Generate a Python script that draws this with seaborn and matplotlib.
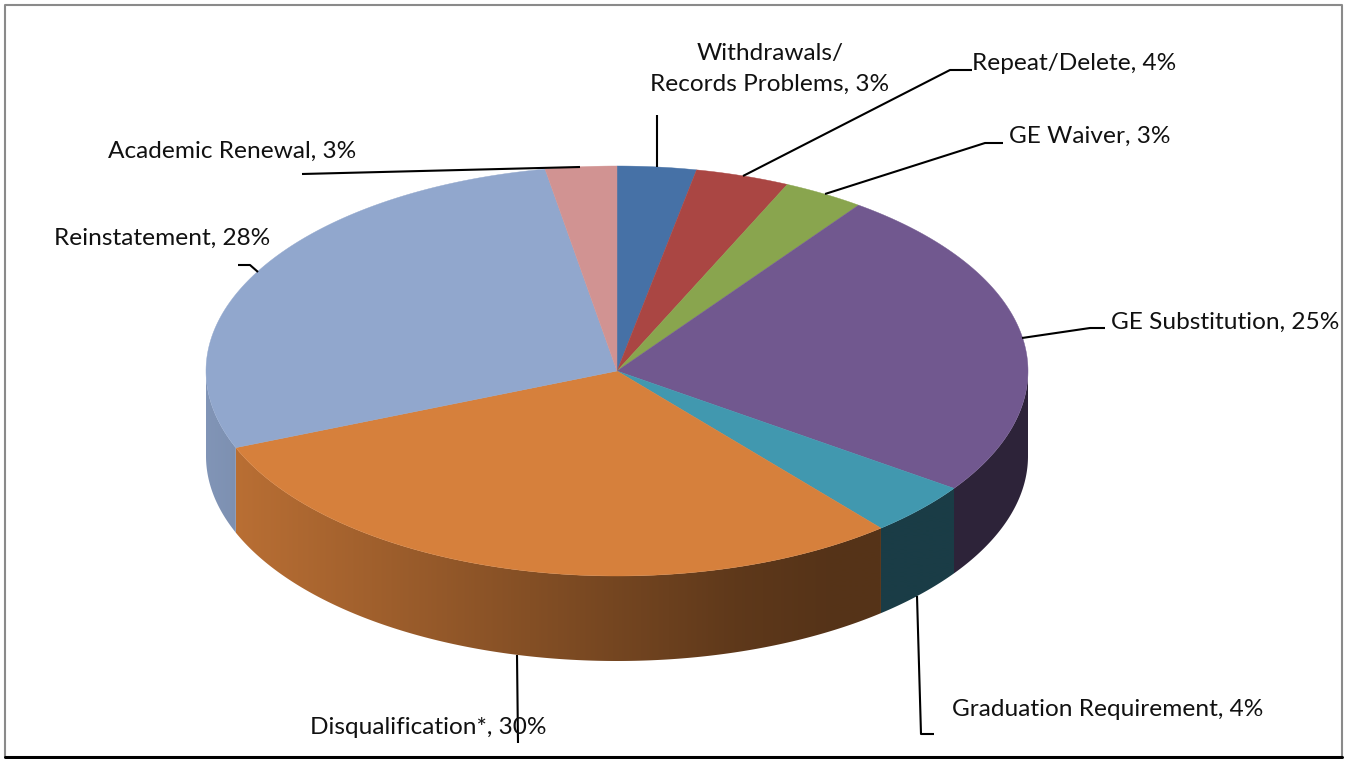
import numpy as np
import matplotlib
matplotlib.use('Agg')
import matplotlib.pyplot as plt
from matplotlib.patches import Polygon
import seaborn as sns

# ==========================================
# 1. DATA
# ==========================================
categorias = ['Withdrawals/\nRecords Problems', 'Repeat/Delete', 'GE Waiver', 'GE Substitution',
              'Graduation Requirement', 'Disqualification*', 'Reinstatement', 'Academic Renewal']
# estimados a partir dos angulos das fatias; os rotulos mostram o valor arredondado
valores = [3.1, 3.7, 3.2, 24.7, 4.2, 30.0, 28.3, 2.8]
cores = ['#4671A6', '#AA4643', '#89A54E', '#71588F', '#4198AF', '#D6803C', '#91A7CD', '#D19392']

# ==========================================
# 2. LAYOUT
# ==========================================
CX, CY, RX, RY, DEPTH = 617, 371, 411, 205, 85

pos_rotulos = [(770, 69, 'center'), (972, 63, 'left'), (1009, 136, 'left'), (1111, 322, 'left'),
               (952, 710, 'left'), (310, 727, 'left'), (54, 238, 'left'), (108, 151, 'left')]
linhas_guia = [[(657, 115), (657, 167)],
               [(972, 70), (950, 70), (743, 176)],
               [(1003, 143), (985, 143), (825, 194)],
               [(1105, 328), (1090, 328), (1022, 338)],
               [(934, 734), (921, 734), (917, 596)],
               [(517, 655), (518, 743)],
               [(238, 265), (250, 265), (258, 272)],
               [(302, 174), (580, 167)]]

sns.set_theme(style='white')
plt.rcParams['font.family'] = ['Lato', 'DejaVu Sans']

fig, ax = plt.subplots(figsize=(13.46, 7.59), dpi=100)
ax.set_position([0, 0, 1, 1])


def elipse(theta):
    # angulo medido a partir do topo, sentido horario
    return CX + RX * np.sin(theta), CY - RY * np.cos(theta)


# ==========================================
# 3. FATIAS
# ==========================================
limites = np.radians(np.cumsum([0] + valores) * 360 / sum(valores))

# parede lateral: gradiente horizontal recortado pelo contorno de cada fatia
colunas = np.arange(CX - RX - 2, CX + RX + 3)
sombra = np.interp(colunas, [206, 740, 830], [0.89, 0.44, 0.40])
for i, cor in enumerate(cores):
    a, b = max(limites[i], np.pi / 2), min(limites[i + 1], 3 * np.pi / 2)
    if a >= b:
        continue
    t = np.linspace(a, b, 200)
    x, y = elipse(t)
    contorno = np.r_[np.c_[x, y], np.c_[x[::-1], y[::-1] + DEPTH]]
    base = np.array(matplotlib.colors.to_rgb(cor))
    faixa = (sombra[None, :, None] * base[None, None, :])
    im = ax.imshow(faixa, extent=[colunas[0], colunas[-1], CY + RY + DEPTH + 2, CY - 2],
                   aspect='auto', interpolation='bilinear', zorder=1)
    im.set_clip_path(Polygon(contorno, transform=ax.transData))

for i, cor in enumerate(cores):
    t = np.linspace(limites[i], limites[i + 1], 120)
    x, y = elipse(t)
    ax.fill(np.r_[CX, x], np.r_[CY, y], color=cor, lw=0.3, zorder=2)

ax.set_xlim(0, 1346)
ax.set_ylim(759, 0)
ax.axis('off')

# ==========================================
# 4. ROTULOS
# ==========================================
for nome, val, (x, y, ha) in zip(categorias, valores, pos_rotulos):
    ax.text(x, y, f'{nome}, {round(val)}%', ha=ha, va='center', fontsize=17.6, color='#111111',
            linespacing=1.57, zorder=5)

for pts in linhas_guia:
    xs, ys = zip(*pts)
    ax.plot(xs, ys, color='black', lw=1.5, zorder=4, solid_capstyle='butt')

# moldura
ax.plot([5, 5, 1342, 1342], [757, 5, 5, 757], color='#8a8a8a', lw=1.5, zorder=6)
ax.plot([5, 1342], [757, 757], color='black', lw=2.2, zorder=6)

fig.savefig('out.png', dpi=100)
plt.close()
